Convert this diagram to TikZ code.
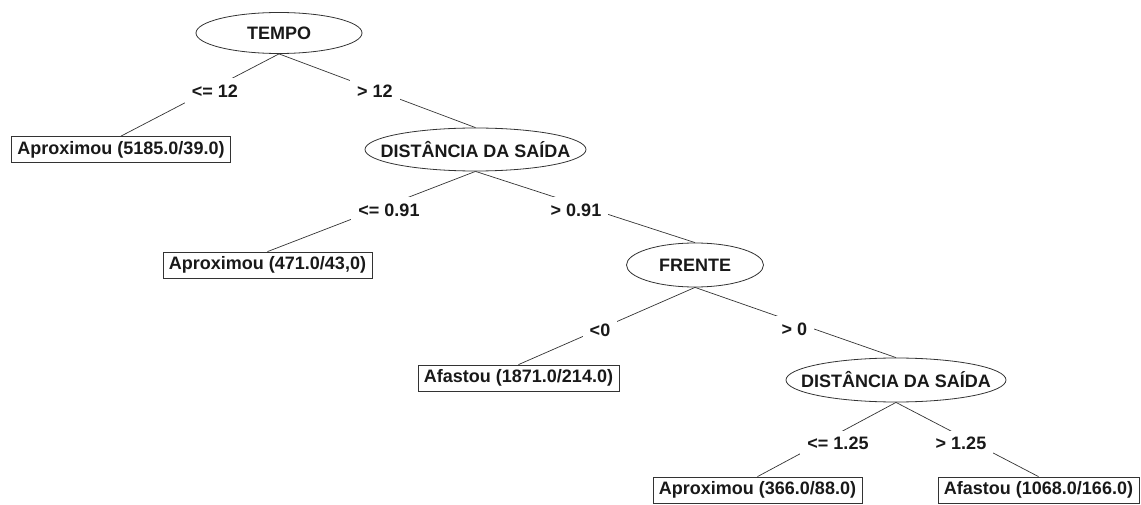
\documentclass[tikz,border=0pt]{standalone}
\usepackage{fontspec}
\setmainfont{Liberation Sans}
\usetikzlibrary{shapes.geometric}
\begin{document}
\begin{tikzpicture}[x=1pt,y=-1pt,
  every node/.style={font=\fontsize{18}{20}\selectfont\bfseries, text=black!90},
  test/.style={draw=black!80, line width=0.8pt, ellipse, inner sep=0pt},
  leaf/.style={draw=black!80, line width=0.8pt, rectangle, inner xsep=6pt, inner ysep=0pt,
               minimum height=26pt},
  cond/.style={fill=white, inner xsep=7pt, inner ysep=0pt, minimum height=26pt},
  edge/.style={draw=black!80, line width=0.7pt}]
\useasboundingbox (0,0) rectangle (1141,505);

% decision nodes
\node[test, minimum width=166pt, minimum height=41pt] (tempo)  at (279,33)     {\makebox[0pt]{TEMPO}};
\node[test, minimum width=221pt, minimum height=43pt] (dist1)  at (475.5,149.5) {\makebox[0pt]{DISTÂNCIA DA SAÍDA}};
\node[test, minimum width=137pt, minimum height=44pt] (frente) at (695,265)    {\makebox[0pt]{FRENTE}};
\node[test, minimum width=220pt, minimum height=44pt] (dist2)  at (896,380)    {\makebox[0pt]{DISTÂNCIA DA SAÍDA}};

% leaves
\node[leaf] (leaf1) at (121,149.5)  {Aproximou (5185.0/39.0)};
\node[leaf] (leaf2) at (267.5,265)  {Aproximou (471.0/43,0)};
\node[leaf] (leaf3) at (518.5,378)  {Afastou (1871.0/214.0)};
\node[leaf] (leaf4) at (757.5,490)  {Aproximou (366.0/88.0)};
\node[leaf] (leaf5) at (1038.5,490) {Afastou (1068.0/166.0)};

% branches
\draw[edge] (tempo.south)  -- (leaf1.north);
\draw[edge] (tempo.south)  -- (dist1.north);
\draw[edge] (dist1.south)  -- (leaf2.north);
\draw[edge] (dist1.south)  -- (frente.north);
\draw[edge] (frente.south) -- (leaf3.north);
\draw[edge] (frente.south) -- (dist2.north);
\draw[edge] (dist2.south)  -- (leaf4.north);
\draw[edge] (dist2.south)  -- (leaf5.north);

% split conditions
\node[cond] (c1) at (215,91.5)   {<= 12};
\node[cond] (c2) at (375,91.5)   {> 12};
\node[cond] (c3) at (389,210)    {<= 0.91};
\node[cond] (c4) at (576,210)    {> 0.91};
\node[cond] (c5) at (600,330)    {<0};
\node[cond] (c6) at (794.5,329)  {> 0};
\node[cond] (c7) at (838,443.5)  {<= 1.25};
\node[cond] (c8) at (961,443.5)  {> 1.25};
\end{tikzpicture}
\end{document}
